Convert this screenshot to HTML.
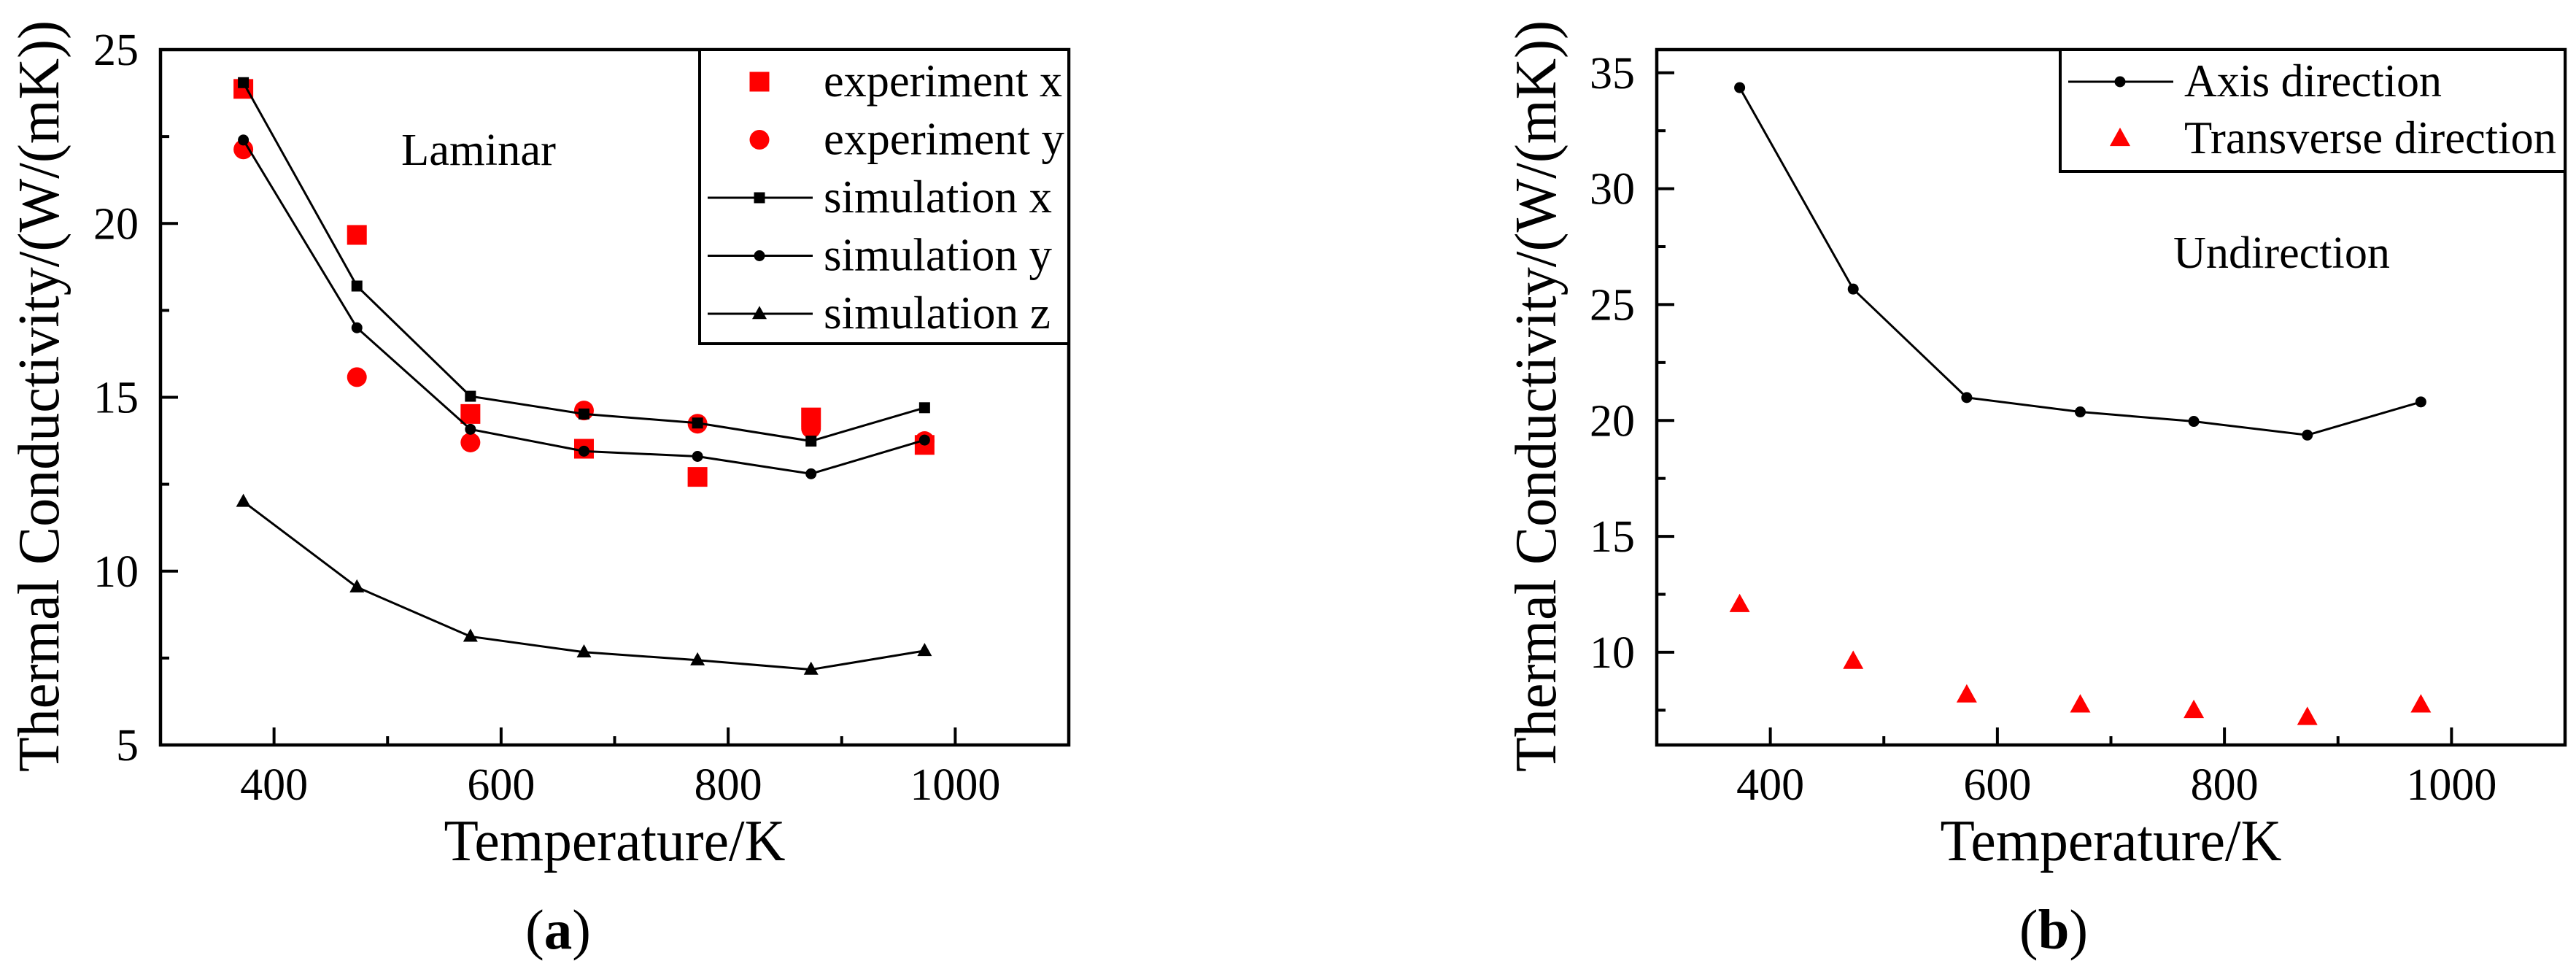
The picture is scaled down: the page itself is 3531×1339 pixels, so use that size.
<!DOCTYPE html>
<html><head><meta charset="utf-8"><style>
html,body{margin:0;padding:0;background:#fff;}
svg{display:block;}
text{font-family:"Liberation Serif","Times New Roman",Times,"DejaVu Serif",serif;}
</style></head><body>
<svg id="fig" width="3531" height="1339" viewBox="0 0 3531 1339" xmlns="http://www.w3.org/2000/svg"></svg>
<script>
const temps = [373, 473, 573, 673, 773, 873, 973];
const simX = [24.05, 18.2, 15.03, 14.52, 14.26, 13.74, 14.7];
const simY = [22.4, 17.0, 14.08, 13.45, 13.3, 12.8, 13.77];
const simZ = [12.0, 9.54, 8.12, 7.67, 7.44, 7.17, 7.71];
const expX = [23.87, 19.67, 14.52, 13.52, 12.71, 14.42, 13.63];
const expY = [22.13, 15.58, 13.7, 14.62, 14.24, 14.1, 13.74];
const axisDir = [34.36, 25.67, 20.99, 20.37, 19.96, 19.37, 20.8];
const transDir = [12.05, 9.6, 8.15, 7.72, 7.48, 7.18, 7.72];
const xTicksMajor = [400, 600, 800, 1000];
const xTicksMinor = [500, 700, 900, 1100];
const yTicksA = [5, 10, 15, 20, 25];
const yMinorA = [7.5, 12.5, 17.5, 22.5];
const yTicksB = [10, 15, 20, 25, 30, 35];
const yMinorB = [7.5, 12.5, 17.5, 22.5, 27.5, 32.5];

const NS = "http://www.w3.org/2000/svg";
const FONT = '"Liberation Serif", "Times New Roman", Times, "DejaVu Serif", serif';
const svg = document.getElementById("fig");
function el(tag, attrs, parent, name) {
  const e = document.createElementNS(NS, tag);
  for (const k in attrs) e.setAttribute(k, attrs[k]);
  
  
  (parent || svg).appendChild(e);
  return e;
}
function txt(s, attrs, parent, name, len) {
  attrs["font-family"] = FONT;
  if (len) { attrs["textLength"] = len; attrs["lengthAdjust"] = "spacingAndGlyphs"; }
  const t = el("text", attrs, parent, name);
  t.textContent = s;
  return t;
}
function marker(g, type, cx, cy, size, color, name) {
  if (type === "sq") return el("rect", {x: cx - size/2, y: cy - size/2, width: size, height: size, fill: color}, g, name);
  if (type === "ci") return el("circle", {cx: cx, cy: cy, r: size/2, fill: color}, g, name);
  const h = size * 0.9;
  return el("polygon", {points: `${cx},${cy - h*0.6} ${cx - size/2},${cy + h*0.4} ${cx + size/2},${cy + h*0.4}`, fill: color}, g, name);
}

function panel(opt) {
  const g = el("g", {}, svg, opt.name);
  const L = opt.left, R = opt.left + 1245, T = 68, B = 1021;
  const sx = v => L + (v - 300) / 800 * (R - L);
  const sy = v => B - (v - opt.ymin) / (opt.ymax - opt.ymin) * (B - T);
  xTicksMajor.forEach(v => {
    el("line", {x1: sx(v), x2: sx(v), y1: B, y2: B - 24, stroke: "#000", "stroke-width": 4}, g, "x-major-tick");
    txt(String(v), {x: sx(v), y: 1096, "font-size": 62, "text-anchor": "middle"}, g, "x-tick-label", String(v).length * 31);
  });
  xTicksMinor.forEach(v => {
    if (v < 1100) el("line", {x1: sx(v), x2: sx(v), y1: B, y2: B - 12, stroke: "#000", "stroke-width": 4}, g, "x-minor-tick");
  });
  opt.yTicks.forEach(v => {
    el("line", {x1: L, x2: L + 24, y1: sy(v), y2: sy(v), stroke: "#000", "stroke-width": 4}, g, "y-major-tick");
    txt(String(v), {x: L - 30, y: sy(v) + 21, "font-size": 62, "text-anchor": "end"}, g, "y-tick-label", String(v).length * 31);
  });
  opt.yMinor.forEach(v => {
    el("line", {x1: L, x2: L + 12, y1: sy(v), y2: sy(v), stroke: "#000", "stroke-width": 4}, g, "y-minor-tick");
  });
  el("rect", {x: L, y: T, width: R - L, height: B - T, fill: "none", stroke: "#000", "stroke-width": 4.5}, g, "plot-frame");
  opt.series.forEach(s => {
    const sg = el("g", {}, g, s.name);
    if (s.line) {
      el("polyline", {points: temps.map((t, i) => sx(t) + "," + sy(s.data[i])).join(" "), fill: "none", stroke: "#000", "stroke-width": 3}, sg, s.name + "-line");
    }
    s.data.forEach((v, i) => marker(sg, s.type, sx(temps[i]), sy(v), s.size, s.color, s.name + "-point"));
  });
  txt("Temperature/K", {x: (L + R) / 2 - 234, y: 1179, "font-size": 80}, g, "x-axis-title", 468);
  txt("Thermal Conductivity/(W/(mK))", {x: 0, y: 0, "font-size": 80, transform: `translate(${opt.ytx},${1058}) rotate(-90)`}, g, "y-axis-title", 1030);
  txt(opt.note, {x: opt.noteX, y: opt.noteY, "font-size": 62}, g, "annotation", opt.noteW);
  const cap = txt("", {x: opt.capX, y: 1300, "font-size": 77, "text-anchor": "middle"}, g, "panel-caption");
  cap.innerHTML = '(<tspan font-weight="bold">' + opt.cap + '</tspan>)';
  const lg = el("g", {}, g, "legend");
  el("rect", {x: opt.legX, y: T, width: R - opt.legX, height: opt.legH, fill: "#fff", stroke: "#000", "stroke-width": 4}, lg, "legend-box");
  opt.series.forEach((s, i) => {
    const cy = 112 + i * opt.legStep;
    const eg = el("g", {}, lg, "legend-entry");
    if (s.line) el("line", {x1: opt.legX + 11, x2: opt.legX + 155, y1: cy, y2: cy, stroke: "#000", "stroke-width": 3}, eg, "legend-line");
    marker(eg, s.type, opt.legX + 82, cy, s.size, s.color, "legend-marker");
    txt(s.label, {x: opt.legX + 170, y: cy + 20, "font-size": 64}, eg, "legend-label", s.w);
  });
}

panel({name: "panel-a", left: 220, ymin: 5, ymax: 25, yTicks: yTicksA, yMinor: yMinorA,
  ytx: 80, note: "Laminar", noteX: 550, noteY: 226, noteW: 212, cap: "a", capX: 765,
  legX: 959, legH: 403, legStep: 79.5,
  series: [
    {name: "experiment-x", label: "experiment x", w: 327, data: expX, type: "sq", size: 27, color: "#f00", line: false},
    {name: "experiment-y", label: "experiment y", w: 330, data: expY, type: "ci", size: 27, color: "#f00", line: false},
    {name: "simulation-x", label: "simulation x", w: 313, data: simX, type: "sq", size: 15, color: "#000", line: true},
    {name: "simulation-y", label: "simulation y", w: 313, data: simY, type: "ci", size: 15, color: "#000", line: true},
    {name: "simulation-z", label: "simulation z", w: 311, data: simZ, type: "tr", size: 20, color: "#000", line: true}
  ]});
panel({name: "panel-b", left: 2271, ymin: 6, ymax: 36, yTicks: yTicksB, yMinor: yMinorB,
  ytx: 2132, note: "Undirection", noteX: 2979, noteY: 367, noteW: 297, cap: "b", capX: 2815,
  legX: 2824, legH: 167, legStep: 78,
  series: [
    {name: "axis-direction", label: "Axis direction", w: 353, data: axisDir, type: "ci", size: 15, color: "#000", line: true},
    {name: "transverse-direction", label: "Transverse direction", w: 510, data: transDir, type: "tr", size: 28, color: "#f00", line: false}
  ]});
</script>
</body></html>
